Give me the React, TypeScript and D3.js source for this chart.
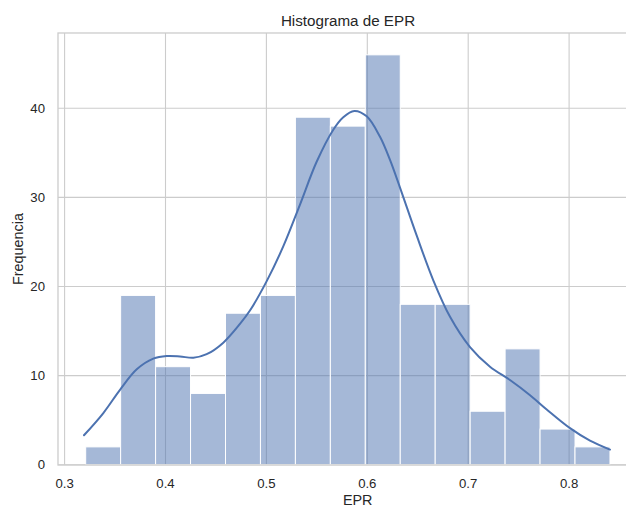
import React from "react";
import * as d3 from "d3";

const binStart = 0.3209;
const binWidth = 0.03464;
const counts = [2, 19, 11, 8, 17, 19, 39, 38, 46, 18, 18, 6, 13, 4, 2];

const kdeX = [0.3192, 0.3384, 0.3549, 0.3715, 0.3879, 0.4012, 0.4144, 0.4276, 0.4408, 0.4573, 0.4738, 0.4837, 0.5003, 0.5167, 0.5333, 0.5498, 0.5663, 0.5762, 0.5871, 0.5994, 0.6126, 0.6225, 0.6324, 0.649, 0.6654, 0.682, 0.7018, 0.7216, 0.7414, 0.7613, 0.7778, 0.8009, 0.8207, 0.8405];
const kdeY = [3.3, 5.8, 8.4, 10.7, 11.9, 12.2, 12.15, 12.0, 12.4, 13.7, 15.8, 17.3, 20.6, 24.5, 29.2, 34.0, 37.6, 39.0, 39.7, 39.1, 36.8, 34.2, 31.1, 25.7, 20.7, 16.6, 13.2, 11.0, 9.5, 7.8, 6.2, 4.1, 2.7, 1.7];

const xTicks = [0.3, 0.4, 0.5, 0.6, 0.7, 0.8];
const yTicks = [0, 10, 20, 30, 40];

const title = "Histograma de EPR";
const xLabel = "EPR";
const yLabel = "Frequencia";

export default function App() {
  const W = 626, H = 507;
  const left = 58, right = 645, top = 33, bottom = 465;
  const x = d3.scaleLinear().domain([0.3, 0.8]).range([64.6, 569.1]);
  const y = d3.scaleLinear().domain([0, 40]).range([464.7, 108.3]);
  const color = "#4c72b0";
  const text = "#262626";
  const grid = "#cccccc";
  const font = "'Liberation Sans', Arial, sans-serif";

  const line = d3
    .line<number>()
    .x((_, i) => x(kdeX[i]))
    .y((d) => y(d))
    .curve(d3.curveCatmullRom.alpha(0.5));

  return (
    <svg width={W} height={H} style={{ position: "absolute", left: 0, top: 0, background: "#fff" }} fontFamily={font}>
      <rect x={0} y={0} width={W} height={H} fill="#fff" />
      {xTicks.map((t) => (
        <line key={"gx" + t} x1={x(t)} x2={x(t)} y1={top} y2={bottom} stroke={grid} strokeWidth={1.1} />
      ))}
      {yTicks.map((t) => (
        <line key={"gy" + t} x1={left} x2={right} y1={y(t)} y2={y(t)} stroke={grid} strokeWidth={1.1} />
      ))}
      {counts.map((c, i) => {
        const x0 = x(binStart + i * binWidth);
        const x1 = x(binStart + (i + 1) * binWidth);
        return (
          <rect
            key={"b" + i}
            x={x0}
            y={y(c)}
            width={x1 - x0}
            height={y(0) - y(c)}
            fill={color}
            fillOpacity={0.5}
            stroke="#ffffff"
            strokeWidth={1}
          />
        );
      })}
      <path d={line(kdeY) || ""} fill="none" stroke={color} strokeWidth={2} strokeLinecap="round" />
      <rect x={left} y={top} width={right - left} height={bottom - top} fill="none" stroke={grid} strokeWidth={1.3} />
      {xTicks.map((t) => (
        <text key={"tx" + t} x={x(t)} y={488} textAnchor="middle" fontSize={13.2} fill={text}>
          {d3.format(".1f")(t)}
        </text>
      ))}
      {yTicks.map((t) => (
        <text key={"ty" + t} x={45} y={y(t)} dy="0.35em" textAnchor="end" fontSize={13.2} fill={text}>
          {t}
        </text>
      ))}
      <text x={x(0.5905)} y={504.5} textAnchor="middle" fontSize={14.4} fill={text}>
        {xLabel}
      </text>
      <text transform={`translate(22.5,${(top + bottom) / 2}) rotate(-90)`} textAnchor="middle" fontSize={14.4} fill={text}>
        {yLabel}
      </text>
      <text x={348} y={26} textAnchor="middle" fontSize={15.2} fill={text}>
        {title}
      </text>
    </svg>
  );
}
